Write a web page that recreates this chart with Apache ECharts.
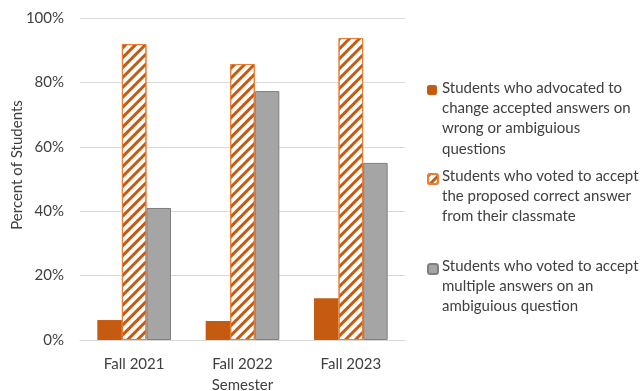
<!DOCTYPE html>
<html><head><meta charset="utf-8">
<script src="https://cdn.jsdelivr.net/npm/echarts@6/dist/echarts.min.js"></script>
<style>html,body{margin:0;padding:0;background:#fff}#c{width:643px;height:391px}</style>
</head><body><div id="c"></div>
<script>
var categories = ['Fall 2021', 'Fall 2022', 'Fall 2023'];
var advocated = [6.2, 5.9, 13.0];
var acceptedCorrect = [91.9, 85.7, 93.8];
var acceptedMultiple = [41.0, 77.3, 55.0];
var seriesNames = [
  'Students who advocated to\nchange accepted answers on\nwrong or ambiguious\nquestions',
  'Students who voted to accept\nthe proposed correct answer\nfrom their classmate',
  'Students who voted to accept\nmultiple answers on an\nambiguious question'
];
var yTicks = [0, 20, 40, 60, 80, 100];

var FONT = 'Lato';
var LH = 20.3;
var legendTops = [85, 173, 263];
function legendFor(i) {
  return {
    orient: 'vertical', left: 427, top: legendTops[i], padding: 0,
    itemWidth: 10, itemHeight: 10, itemGap: 0,
    data: [seriesNames[i]],
    selectedMode: false,
    formatter: function () { return ''; },
    textStyle: {fontSize: 1}
  };
}
function legendText(i) {
  return {
    type: 'text', left: 442, top: legendTops[i] + 5 - LH / 2 - 2, silent: true,
    style: {text: seriesNames[i], fontFamily: FONT, fontSize: 15, lineHeight: LH, fill: '#404040'}
  };
}
var chart = echarts.init(document.getElementById('c'), null, {renderer: 'canvas'});
chart.setOption({
  animation: false,
  textStyle: {fontFamily: FONT},
  grid: {left: 80, right: 238, top: 18, bottom: 51, containLabel: false, outerBoundsMode: 'none'},
  legend: [legendFor(0), legendFor(1), legendFor(2)],
  graphic: [legendText(0), legendText(1), legendText(2)],
  xAxis: {
    type: 'category', data: categories,
    axisLine: {lineStyle: {color: '#d9d9d9', width: 1}},
    axisTick: {show: false},
    axisLabel: {fontFamily: FONT, fontSize: 15, color: '#404040', margin: 17},
    name: 'Semester', nameLocation: 'middle', nameGap: 38, nameMoveOverlap: false,
    nameTextStyle: {fontFamily: FONT, fontSize: 15, color: '#404040'}
  },
  yAxis: {
    type: 'value', min: yTicks[0], max: yTicks[yTicks.length - 1], interval: 20,
    axisLine: {show: false}, axisTick: {show: false},
    splitLine: {lineStyle: {color: '#d9d9d9', width: 1}},
    axisLabel: {formatter: '{value}%', fontFamily: FONT, fontSize: 15, color: '#404040', margin: 16},
    name: 'Percent of Students', nameLocation: 'middle', nameGap: 55, nameMoveOverlap: false,
    nameTextStyle: {fontFamily: FONT, fontSize: 15, color: '#404040', padding: [0, 0, 0, 28]}
  },
  series: [
    {name: seriesNames[0], type: 'bar', data: advocated, barGap: '0%', barCategoryGap: '32%',
     itemStyle: {color: '#c55a11'}},
    {name: seriesNames[1], type: 'bar', data: acceptedCorrect, barGap: '0%', barCategoryGap: '32%',
     itemStyle: {color: '#ffffff', borderColor: '#ed7d31', borderWidth: 1,
       decal: {symbol: 'rect', symbolSize: 1, dashArrayX: [1, 0], dashArrayY: [2.5, 3.5],
               rotation: -Math.PI / 4, color: '#c55a11'}}},
    {name: seriesNames[2], type: 'bar', data: acceptedMultiple, barGap: '0%', barCategoryGap: '32%',
     itemStyle: {color: '#a5a5a5', borderColor: '#7f7f7f', borderWidth: 1}}
  ]
});
</script></body></html>
